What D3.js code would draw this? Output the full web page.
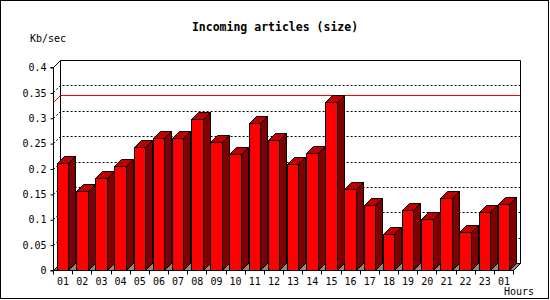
<!DOCTYPE html>
<html>
<head>
<meta charset="utf-8">
<script src="https://cdn.jsdelivr.net/npm/d3@7"></script>
<style>
  body { margin: 0; background: #fff; }
  svg { display: block; }
  text { font-family: "DejaVu Sans Mono", monospace; font-size: 10px; fill: #000; }
</style>
</head>
<body>
<figure id="chart" style="margin:0"></figure>
<script>
// hour labels along the x axis
const hours = ["01","02","03","04","05","06","07","08","09","10","11","12",
               "13","14","15","16","17","18","19","20","21","22","23","01"];
// incoming size per hour, Kb/sec
const kbps = [0.210, 0.155, 0.182, 0.205, 0.243, 0.261, 0.261, 0.298, 0.253, 0.228, 0.289, 0.257,
              0.208, 0.230, 0.332, 0.159, 0.129, 0.070, 0.119, 0.100, 0.141, 0.074, 0.114, 0.130];
const yTicks = [0, 0.05, 0.1, 0.15, 0.2, 0.25, 0.3, 0.35, 0.4];
const yLabels = ["0", "0.05", "0.1", "0.15", "0.2", "0.25", "0.3", "0.35", "0.4"];

const width = 550, height = 300;
const plotLeft = 53, plotRight = 513, plotBottom = 270, plotTop = 67;
const depth = 7;

const svg = d3.select("#chart").append("svg")
  .attr("width", width)
  .attr("height", height);

svg.append("rect")
  .attr("x", 0.5).attr("y", 0.5)
  .attr("width", 548).attr("height", 298)
  .attr("fill", "#fff").attr("stroke", "#000");

const g = svg.append("g").attr("transform", "translate(0.5,0.5)");

const x = d3.scaleBand()
  .domain(d3.range(hours.length))
  .range([plotLeft, plotRight]);

const y = d3.scaleLinear()
  .domain([0, 0.4])
  .range([plotBottom, plotTop]);

// dotted grid on the back wall
const grid = yTicks.slice(1, -1);
g.selectAll(".grid")
  .data(grid)
  .enter()
  .append("path")
  .attr("d", d => `M${plotLeft},${Math.round(y(d))}L${plotLeft + depth},${Math.round(y(d)) - depth}H${plotRight + depth}`)
  .attr("fill", "none")
  .attr("stroke", "#000")
  .attr("stroke-dasharray", "2,2");

// max line
const maxV = d3.max(kbps);
g.append("path")
  .attr("d", `M${plotLeft},${Math.round(y(maxV))}L${plotLeft + depth},${Math.round(y(maxV)) - depth}H${plotRight + depth}`)
  .attr("fill", "none")
  .attr("stroke", "#ff0000");

// floor
g.append("path")
  .attr("d", `M${plotLeft},${plotBottom}L${plotLeft + depth},${plotBottom - depth}H${plotRight + depth}L${plotRight},${plotBottom}Z`)
  .attr("fill", "#8a8a8a")
  .attr("stroke", "#000");

// back wall outline
g.append("path")
  .attr("d", `M${plotLeft},${plotTop}L${plotLeft + depth},${plotTop - depth}V${plotBottom - depth}M${plotLeft + depth},${plotTop - depth}H${plotRight + depth}V${plotBottom - depth}`)
  .attr("fill", "none")
  .attr("stroke", "#000");

// 3D bars
const bw = x.bandwidth();
const bars = g.selectAll(".bar")
  .data(kbps)
  .enter()
  .append("g");

bars.each(function (d, i) {
  const el = d3.select(this);
  const x0 = Math.round(x(i) + bw * 0.2);
  const x1 = Math.round(x(i) + bw * 0.8);
  const yt = Math.round(y(d));
  el.append("path")
    .attr("d", `M${x1},${yt}L${x1 + depth},${yt - depth}V${plotBottom - depth}L${x1},${plotBottom}Z`)
    .attr("fill", "#800000").attr("stroke", "#000");
  el.append("path")
    .attr("d", `M${x0},${yt}L${x0 + depth},${yt - depth}H${x1 + depth}L${x1},${yt}Z`)
    .attr("fill", "#c00000").attr("stroke", "#000");
  el.append("rect")
    .attr("x", x0).attr("y", yt)
    .attr("width", x1 - x0).attr("height", plotBottom - yt)
    .attr("fill", "#ff0000").attr("stroke", "#000");
});

// y axis
const yAxis = g.append("g")
  .attr("transform", `translate(${plotLeft},0)`)
  .call(d3.axisLeft(y).tickValues(yTicks).tickSize(3).tickPadding(4)
    .tickFormat((d, i) => yLabels[i]));
yAxis.attr("font-family", null).attr("font-size", null);
yAxis.select(".domain").attr("d", `M-3,${plotTop}H0V${plotBottom}`);

// x axis: labels at band centers, ticks at band edges
const xAxis = g.append("g")
  .attr("transform", `translate(0,${plotBottom})`)
  .call(d3.axisBottom(x).tickSize(0).tickPadding(7).tickFormat(i => hours[i]));
xAxis.attr("font-family", null).attr("font-size", null);
xAxis.select(".domain").attr("d", `M${plotLeft - 3},0H${plotRight}`);
xAxis.selectAll(".tick").attr("transform", i => `translate(${x(i) + bw / 2},0)`);
g.selectAll(".xtick")
  .data(d3.range(hours.length + 1))
  .enter()
  .append("line")
  .attr("x1", i => Math.round(plotLeft + i * bw)).attr("x2", i => Math.round(plotLeft + i * bw))
  .attr("y1", plotBottom).attr("y2", plotBottom + 4)
  .attr("stroke", "#000");

// titles
svg.append("text")
  .attr("x", 275).attr("y", 31)
  .attr("text-anchor", "middle")
  .style("font-weight", "bold")
  .style("font-size", "11.5px")
  .text("Incoming articles (size)");

svg.append("text")
  .attr("x", 30).attr("y", 42)
  .text("Kb/sec");

svg.append("text")
  .attr("x", 534).attr("y", 295)
  .attr("text-anchor", "end")
  .text("Hours");
</script>
</body>
</html>
